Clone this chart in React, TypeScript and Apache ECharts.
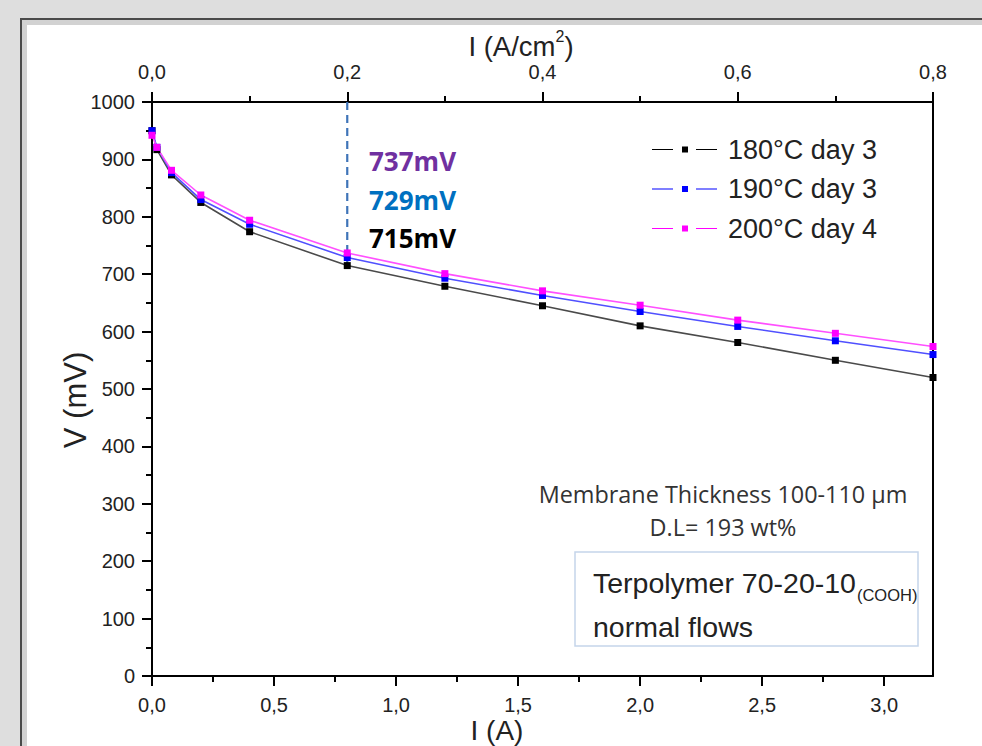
import React, { useEffect, useRef } from "react";
import * as echarts from "echarts";

// ---- data ----
const CURRENT_A = [0, 0.02, 0.08, 0.2, 0.4, 0.8, 1.2, 1.6, 2.0, 2.4, 2.8, 3.2];
const V_180_DAY3 = [950, 917, 873, 825, 774, 715, 679, 645, 610, 581, 550, 520];
const V_190_DAY3 = [950, 921, 877, 830, 787, 729, 693, 663, 635, 609, 584, 560];
const V_200_DAY4 = [942, 921, 881, 838, 794, 737, 701, 671, 646, 620, 597, 574];
const SERIES_NAMES = ["180°C day 3", "190°C day 3", "200°C day 4"];
const BOTTOM_MAJOR = [0, 0.5, 1.0, 1.5, 2.0, 2.5, 3.0];
const BOTTOM_MINOR = [0.25, 0.75, 1.25, 1.75, 2.25, 2.75];
const MARK_CURRENT = 0.8;
const MARK_LABELS = ["737mV", "729mV", "715mV"];
const MARK_COLORS = ["#7030a0", "#0070c0", "#000000"];
const BOX_TITLE = "Terpolymer 70-20-10";
const BOX_SUB = "(COOH)";
const TOP_TITLE = ["I (A/cm", "2", ")"];

const comma = (v: number) => v.toFixed(1).replace(".", ",");

// legend icon: line - gap - small square - gap - line (65 x 6 box)
const LEGEND_ICON = "path://M0,2.4H21V3.6H0Z M30,0H36V6H30Z M44,2.4H65V3.6H44Z";

function measure(text: string, font: string): number {
  const c = document.createElement("canvas").getContext("2d");
  if (!c) return text.length * 14;
  c.font = font;
  return c.measureText(text).width;
}

export default function App() {
  const ref = useRef<HTMLDivElement>(null);
  useEffect(() => {
    document.documentElement.style.overflow = "hidden";
    document.body.style.overflow = "hidden";
    document.body.style.margin = "0";
    const chart = echarts.init(ref.current!, null, { renderer: "svg" });
    const AX = "Liberation Sans, Arial, sans-serif";
    const CAL = "Open Sans, sans-serif";
    const pts = (vals: number[]) => CURRENT_A.map((x, i) => [x, vals[i]]);
    const lineSeries = (name: string, vals: number[], lineColor: string, symColor: string) => ({
      name,
      type: "line",
      xAxisIndex: 0,
      yAxisIndex: 0,
      data: pts(vals),
      symbol: "rect",
      symbolSize: 7,
      lineStyle: { color: lineColor, width: 1.6 },
      itemStyle: { color: symColor },
      z: 3,
    });
    const tickStyle = { color: "#000", width: 2 };
    const boxFont = 28.5;
    const titleW = measure(BOX_TITLE, `${boxFont}px "Liberation Sans"`);
    // top axis title with a superscript
    const tFont = 27.5;
    const sFont = 16;
    const w1 = measure(TOP_TITLE[0], `${tFont}px "Liberation Sans"`);
    const w2 = measure(TOP_TITLE[1], `${sFont}px "Liberation Sans"`);
    const w3 = measure(TOP_TITLE[2], `${tFont}px "Liberation Sans"`);
    const tx0 = 521 - (w1 + w2 + w3) / 2;
    chart.setOption({
      animation: false,
      backgroundColor: "transparent",
      grid: { left: 152, right: 49, top: 102, bottom: 70, containLabel: false },
      xAxis: [
        {
          type: "value",
          position: "bottom",
          min: 0,
          max: 3.2,
          axisLine: { show: true, onZero: false, lineStyle: tickStyle },
          axisTick: { show: true, length: 10, customValues: BOTTOM_MAJOR, lineStyle: tickStyle },
          axisLabel: { customValues: BOTTOM_MAJOR, formatter: comma, fontSize: 20, fontFamily: AX, color: "#222", margin: 22, lineHeight: 14 },
          splitLine: { show: false },
        },
        {
          type: "value",
          position: "top",
          min: 0,
          max: 0.8,
          interval: 0.2,
          axisLine: { show: true, onZero: false, lineStyle: tickStyle },
          axisTick: { show: true, length: 10, lineStyle: tickStyle },
          minorTick: { show: true, splitNumber: 2, length: 6, lineStyle: tickStyle },
          axisLabel: { formatter: comma, fontSize: 20, fontFamily: AX, color: "#222", margin: 23, lineHeight: 14 },
          splitLine: { show: false },
        },
        {
          type: "value",
          position: "bottom",
          min: 0,
          max: 3.2,
          axisLine: { show: false },
          axisTick: { show: true, length: 6, customValues: BOTTOM_MINOR, lineStyle: tickStyle },
          axisLabel: { show: false },
          splitLine: { show: false },
        },
      ],
      yAxis: [
        {
          type: "value",
          position: "left",
          min: 0,
          max: 1000,
          interval: 100,
          axisLine: { show: true, onZero: false, lineStyle: tickStyle },
          axisTick: { show: true, length: 10, lineStyle: tickStyle },
          minorTick: { show: true, splitNumber: 2, length: 6, lineStyle: tickStyle },
          axisLabel: { formatter: (v: number) => String(v), fontSize: 20, fontFamily: AX, color: "#222", margin: 17 },
          splitLine: { show: false },
        },
        {
          type: "value",
          position: "right",
          min: 0,
          max: 1000,
          axisLine: { show: true, onZero: false, lineStyle: tickStyle },
          axisTick: { show: false },
          axisLabel: { show: false },
          splitLine: { show: false },
        },
      ],
      legend: {
        data: SERIES_NAMES,
        orient: "vertical",
        left: 647,
        top: 131,
        icon: LEGEND_ICON,
        itemWidth: 65,
        itemHeight: 6,
        itemGap: 12.5,
        textStyle: { fontSize: 27, fontFamily: AX, color: "#222", padding: [0, 0, 0, 6] },
      },
      series: [
        {
          name: "marker",
          type: "line",
          xAxisIndex: 0,
          yAxisIndex: 0,
          data: [[MARK_CURRENT, 1000], [MARK_CURRENT, V_180_DAY3[CURRENT_A.indexOf(MARK_CURRENT)]]],
          symbol: "none",
          silent: true,
          lineStyle: { color: "#3f74b8", width: 2.2, type: [8, 5] },
          z: 2,
        },
        lineSeries(SERIES_NAMES[0], V_180_DAY3, "#4a4a4a", "#000000"),
        lineSeries(SERIES_NAMES[1], V_190_DAY3, "#5050ff", "#0000ff"),
        lineSeries(SERIES_NAMES[2], V_200_DAY4, "#ff50ff", "#ff00ff"),
      ],
      graphic: [
        { type: "text", x: tx0, y: 46, style: { text: TOP_TITLE[0], fontSize: tFont, fontFamily: AX, fill: "#222", align: "left", verticalAlign: "middle", lineHeight: 18 } },
        { type: "text", x: tx0 + w1, y: 36, style: { text: TOP_TITLE[1], fontSize: sFont, fontFamily: AX, fill: "#222", align: "left", verticalAlign: "middle", lineHeight: 12 } },
        { type: "text", x: tx0 + w1 + w2, y: 46, style: { text: TOP_TITLE[2], fontSize: tFont, fontFamily: AX, fill: "#222", align: "left", verticalAlign: "middle", lineHeight: 18 } },
        { type: "text", x: 497, y: 730, style: { text: "I (A)", fontSize: 28, fontFamily: AX, fill: "#222", align: "center", verticalAlign: "middle", lineHeight: 12 } },
        { type: "text", x: 75, y: 400, rotation: Math.PI / 2, style: { text: "V (mV)", fontSize: 31, fontFamily: AX, fill: "#222", align: "center", verticalAlign: "middle" } },
        ...MARK_LABELS.map((t, i) => ({
          type: "text",
          x: 369,
          y: 161 + i * 38.5,
          style: { text: t, fontSize: 26, fontWeight: "bold", fontFamily: CAL, fill: MARK_COLORS[i], align: "left", verticalAlign: "middle" },
        })),
        { type: "text", x: 723, y: 494, style: { text: "Membrane Thickness 100-110 µm", fontSize: 23.4, fontFamily: CAL, fill: "#333", align: "center", verticalAlign: "middle" } },
        { type: "text", x: 723, y: 527, style: { text: "D.L= 193 wt%", fontSize: 23.4, fontFamily: CAL, fill: "#333", align: "center", verticalAlign: "middle" } },
        { type: "rect", shape: { x: 575, y: 552, width: 343, height: 94 }, style: { fill: "#fff", stroke: "#c5d5ea", lineWidth: 1.5 } },
        { type: "text", x: 593, y: 583, style: { text: BOX_TITLE, fontSize: boxFont, fontFamily: AX, fill: "#222", align: "left", verticalAlign: "middle" } },
        { type: "text", x: 593 + titleW + 1, y: 595, style: { text: BOX_SUB, fontSize: 16.5, fontFamily: AX, fill: "#222", align: "left", verticalAlign: "middle" } },
        { type: "text", x: 593, y: 627, style: { text: "normal flows", fontSize: boxFont, fontFamily: AX, fill: "#222", align: "left", verticalAlign: "middle" } },
      ],
    });
    return () => chart.dispose();
  }, []);
  return (
    <div style={{ position: "fixed", left: 0, top: 0, width: 982, height: 746, overflow: "hidden", background: "#dedede" }}>
      <div style={{ position: "absolute", left: 20, top: 18, width: 1000, height: 800, background: "#4a4a4a" }} />
      <div style={{ position: "absolute", left: 22, top: 20, width: 1000, height: 800, background: "#d2d2d2" }} />
      <div style={{ position: "absolute", left: 27, top: 25, width: 1000, height: 800, background: "#ffffff" }} />
      <div ref={ref} style={{ position: "absolute", left: 0, top: 0, width: 982, height: 746 }} />
    </div>
  );
}
